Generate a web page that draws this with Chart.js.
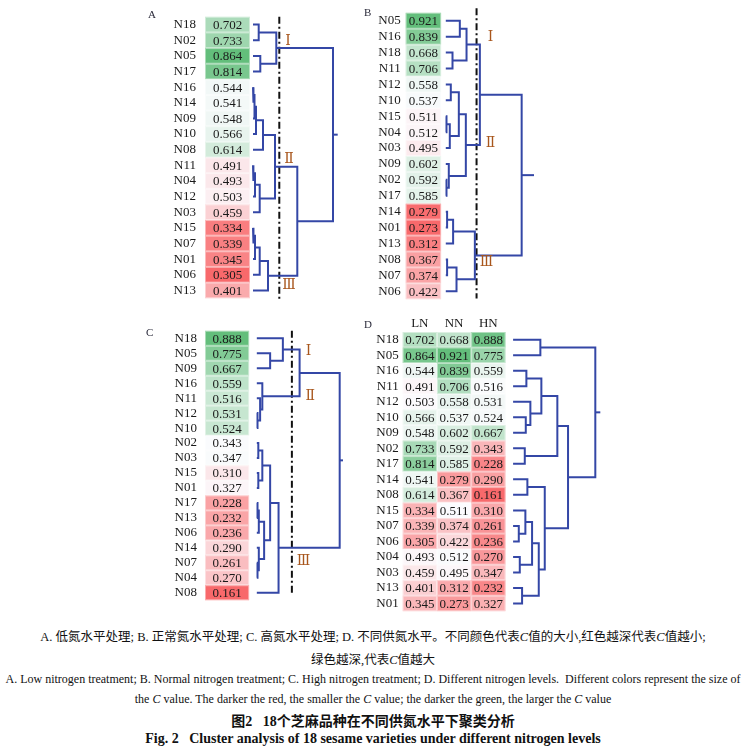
<!DOCTYPE html>
<html>
<head>
<meta charset="utf-8">
<script src="https://cdn.jsdelivr.net/npm/chart.js@4.4.1/dist/chart.umd.min.js"></script>
<style>
  body { margin: 0; background: #fff; width: 746px; height: 750px; position: relative; overflow: hidden; }
  canvas { position: absolute; }
  .letter { position: absolute; font: 11px "Liberation Serif", serif; color: #2a2a3a; }
  .cap { position: absolute; left: 0; width: 746px; text-align: center; color: #111; white-space: nowrap; }
  .zh { font: 12.5px "Liberation Serif", "Noto Sans CJK SC", serif; }
  .en { font: 12px "Liberation Serif", serif; }
  .bold { font-weight: bold; font-size: 14px; }
</style>
</head>
<body>
<canvas id="chartA"></canvas>
<canvas id="chartB"></canvas>
<canvas id="chartC"></canvas>
<canvas id="chartD"></canvas>

<div class="letter" style="left:148px;top:8px">A</div>
<div class="letter" style="left:364px;top:6px">B</div>
<div class="letter" style="left:146px;top:326px">C</div>
<div class="letter" style="left:364px;top:318px">D</div>

<div class="cap zh" style="top:626px">A. 低氮水平处理; B. 正常氮水平处理; C. 高氮水平处理; D. 不同供氮水平。不同颜色代表<i>C</i>值的大小,红色越深代表<i>C</i>值越小;</div>
<div class="cap zh" style="top:649px">绿色越深,代表<i>C</i>值越大</div>
<div class="cap en" style="top:672px">A. Low nitrogen treatment; B. Normal nitrogen treatment; C. High nitrogen treatment; D. Different nitrogen levels.&nbsp; Different colors represent the size of</div>
<div class="cap en" style="top:692px">the <i>C</i> value. The darker the red, the smaller the <i>C</i> value; the darker the green, the larger the <i>C</i> value</div>
<div class="cap zh bold" style="top:710px">图2&nbsp;&nbsp;&nbsp;18个芝麻品种在不同供氮水平下聚类分析</div>
<div class="cap en bold" style="top:731px">Fig. 2&nbsp;&nbsp;&nbsp;Cluster analysis of 18 sesame varieties under different nitrogen levels</div>

<script>
// ---- data ----
const namesA = ['N18','N02','N05','N17','N16','N14','N09','N10','N08','N11','N04','N12','N03','N15','N07','N01','N06','N13'];
const valuesA = [0.702,0.733,0.864,0.814,0.544,0.541,0.548,0.566,0.614,0.491,0.493,0.503,0.459,0.334,0.339,0.345,0.305,0.401];

const namesB = ['N05','N16','N18','N11','N12','N10','N15','N04','N03','N09','N02','N17','N14','N01','N13','N08','N07','N06'];
const valuesB = [0.921,0.839,0.668,0.706,0.558,0.537,0.511,0.512,0.495,0.602,0.592,0.585,0.279,0.273,0.312,0.367,0.374,0.422];

const namesC = ['N18','N05','N09','N16','N11','N12','N10','N02','N03','N15','N01','N17','N13','N06','N14','N07','N04','N08'];
const valuesC = [0.888,0.775,0.667,0.559,0.516,0.531,0.524,0.343,0.347,0.310,0.327,0.228,0.232,0.236,0.290,0.261,0.270,0.161];

const namesD = ['N18','N05','N16','N11','N12','N10','N09','N02','N17','N14','N08','N15','N07','N06','N04','N03','N13','N01'];
const headersD = ['LN','NN','HN'];
const lnD = [0.702,0.864,0.544,0.491,0.503,0.566,0.548,0.733,0.814,0.541,0.614,0.334,0.339,0.305,0.493,0.459,0.401,0.345];
const nnD = [0.668,0.921,0.839,0.706,0.558,0.537,0.602,0.592,0.585,0.279,0.367,0.511,0.374,0.422,0.512,0.495,0.312,0.273];
const hnD = [0.888,0.775,0.559,0.516,0.531,0.524,0.667,0.343,0.228,0.290,0.161,0.310,0.261,0.236,0.270,0.347,0.232,0.327];

// dendrograms: [left, right, merge distance]
const treeA = [
  [['N18','N02',5.7], ['N05','N17',7.3], 23.3],
  [
    [[[[['N16','N14',0.7],'N09',1.5],'N10',3],'N08',10], [[['N11','N04',0.6],'N12',2],'N03',6.7], 22],
    [[[['N15','N07',0.7],'N01',2],'N06',6.7],'N13',15],
    44.3
  ],
  80
];
const treeB = [
  [
    [['N05','N16',14], ['N18','N11',6.7], 20.7],
    [[['N12','N10',5], [['N15','N04',0.7],'N03',4], 13], ['N09',['N02','N17',0.7],3], 20],
    34
  ],
  [[['N14','N01',1.3],'N13',7.3], [['N08','N07',1.3],'N06',10.7], 29],
  75.7
];
const treeC = [
  [['N18',['N05','N09',13.3],26], ['N16',['N11',['N12','N10',0.7],3.3],5.5], 42.7],
  [[[['N02','N03',1.5],['N15','N01',1.5],5.5], [[['N17','N13',0.7],'N06',2],['N14',['N07','N04',0.7],2],7.3], 13.3], 'N08', 21.7],
  82.7
];
const treeD = [
  ['N18','N05',27.3],
  [
    [[['N16','N11',13.3], ['N12',['N10','N09',12.7],17.3], 28.3], ['N02','N17',11.7], 44.3],
    [['N14','N08',14.3], [[['N15',['N07','N06',5.7],12.3], ['N04','N03',6.7], 19], ['N13','N01',9], 25.7], 31.7],
    55
  ],
  82.3
];
const cutA = 26.3, cutB = 30.7, cutC = 35;

// ---- helpers ----
const LINE = '#3447a6';
const SERIF = '"Liberation Serif", "Times New Roman", serif';

function median(arr) {
  const s = arr.slice().sort((a, b) => a - b);
  const m = Math.floor(s.length / 2);
  return s.length % 2 ? s[m] : (s[m - 1] + s[m]) / 2;
}

function cellColor(v, lo, mid, hi) {
  const red = [248,105,107], white = [252,252,255], green = [99,190,123];
  let a, b, t;
  if (v <= mid) { a = red; b = white; t = (v - lo) / (mid - lo); }
  else { a = white; b = green; t = (v - mid) / (hi - mid); }
  const c = a.map((x, i) => Math.round(x + (b[i] - x) * t));
  return 'rgb(' + c.join(',') + ')';
}

function buildLinks(node, names, out) {
  if (typeof node === 'string') return { x: 0, y: names.indexOf(node) };
  const a = buildLinks(node[0], names, out);
  const b = buildLinks(node[1], names, out);
  const h = node[2];
  out.push([{x: a.x, y: a.y}, {x: h, y: a.y}, {x: h, y: b.y}, {x: b.x, y: b.y}]);
  return { x: h, y: (a.y + b.y) / 2 };
}

function lineSet(data, extra) {
  return Object.assign({
    data: data, showLine: true, borderColor: LINE, borderWidth: 2,
    pointRadius: 0, fill: false, clip: false, borderJoinStyle: 'miter'
  }, extra || {});
}

function makePanel(p) {
  const cols = p.columns;
  const xMin = -(cols.length * p.cellW + p.gap);
  const flat = [].concat.apply([], cols);
  const lo = Math.min.apply(null, flat), hi = Math.max.apply(null, flat), mid = median(flat);

  const links = [];
  const root = buildLinks(p.tree, p.names, links);
  const datasets = links.map(l => lineSet(l));
  datasets.push(lineSet([{x: root.x, y: root.y}, {x: p.stub, y: root.y}]));
  if (p.cut !== undefined) {
    datasets.push(lineSet([{x: p.cut, y: p.cutFrom}, {x: p.cut, y: p.cutTo}],
      {borderColor: '#111', borderWidth: 2, borderDash: [7, 3, 2, 3], borderCapStyle: 'butt'}));
  }

  const cells = {
    id: 'cells' + p.id,
    beforeDatasetsDraw(chart) {
      const ctx = chart.ctx, xs = chart.scales.x, ys = chart.scales.y;
      ctx.save();
      cols.forEach((col, j) => {
        const x0 = xs.getPixelForValue(xMin + j * p.cellW);
        const x1 = xs.getPixelForValue(xMin + (j + 1) * p.cellW);
        col.forEach((v, i) => {
          const y0 = ys.getPixelForValue(i - 0.5), y1 = ys.getPixelForValue(i + 0.5);
          ctx.fillStyle = cellColor(v, lo, mid, hi);
          ctx.fillRect(x0, y0, x1 - x0, y1 - y0);
          ctx.strokeStyle = 'rgba(255,255,255,0.45)';
          ctx.lineWidth = 1;
          ctx.strokeRect(x0 + 0.5, y0 + 0.5, x1 - x0 - 1, y1 - y0 - 1);
          ctx.fillStyle = '#1a1a1a';
          ctx.font = '13px ' + SERIF;
          ctx.textAlign = 'center';
          ctx.textBaseline = 'middle';
          ctx.fillText(v.toFixed(3), (x0 + x1) / 2, (y0 + y1) / 2 + 1);
        });
        if (p.headers) {
          ctx.fillStyle = '#1a1a1a';
          ctx.font = '13px ' + SERIF;
          ctx.textAlign = 'center';
          ctx.textBaseline = 'middle';
          ctx.fillText(p.headers[j], (x0 + x1) / 2, chart.chartArea.top - 8);
        }
      });
      ctx.restore();
    },
    afterDraw(chart) {
      if (!p.groups) return;
      const ctx = chart.ctx, xs = chart.scales.x, ys = chart.scales.y;
      ctx.save();
      ctx.font = '14px "DejaVu Serif", serif';
      ctx.fillStyle = '#a8561c';
      ctx.textAlign = 'center';
      ctx.textBaseline = 'middle';
      p.groups.forEach(g => ctx.fillText(g.text, xs.getPixelForValue(g.x), ys.getPixelForValue(g.row)));
      ctx.restore();
    }
  };

  const canvas = document.getElementById('chart' + p.id);
  const width = Math.round(p.axisW + (p.xMax - xMin) + 2);
  canvas.width = width;
  canvas.height = Math.round(p.padTop + p.plotH + p.padBottom);
  canvas.style.left = p.left + 'px';
  canvas.style.top = p.top + 'px';

  new Chart(canvas.getContext('2d'), {
    type: 'scatter',
    data: { datasets: datasets },
    options: {
      responsive: false,
      animation: false,
      layout: { padding: { top: p.padTop, bottom: p.padBottom, left: 0, right: 2 } },
      plugins: { legend: { display: false }, tooltip: { enabled: false } },
      scales: {
        x: { type: 'linear', display: false, min: xMin, max: p.xMax },
        y: {
          type: 'linear', reverse: true, min: -0.5, max: p.names.length - 0.5,
          grid: { display: false, drawTicks: false }, border: { display: false },
          afterBuildTicks: axis => { axis.ticks = p.names.map((n, i) => ({ value: i })); },
          afterFit: axis => { axis.width = p.axisW; },
          ticks: {
            autoSkip: false, padding: p.namePad, color: '#1a1a1a',
            font: { family: SERIF, size: 13 },
            callback: v => p.names[v]
          }
        }
      }
    },
    plugins: [cells]
  });
}

makePanel({
  id: 'A', left: 140, top: 0, axisW: 65, namePad: 9, padTop: 12.7, plotH: 296.3, padBottom: 6,
  cellW: 45, gap: 3, xMax: 90, names: namesA, columns: [valuesA], tree: treeA, stub: 84.7,
  cut: cutA, cutFrom: -0.5, cutTo: 17.55,
  groups: [{text: 'Ⅰ', x: 35, row: 1.05}, {text: 'Ⅱ', x: 36, row: 8.6}, {text: 'Ⅲ', x: 36, row: 16.7}]
});
makePanel({
  id: 'B', left: 360, top: 0, axisW: 45.7, namePad: 5, padTop: 12.7, plotH: 293.3, padBottom: 6,
  cellW: 35.3, gap: 4.7, xMax: 92, names: namesB, columns: [valuesB], tree: treeB, stub: 88,
  cut: cutB, cutFrom: -0.78, cutTo: 17.45,
  groups: [{text: 'Ⅰ', x: 44.7, row: 1.07}, {text: 'Ⅱ', x: 44.7, row: 7.7}, {text: 'Ⅲ', x: 40.7, row: 15.2}]
});
makePanel({
  id: 'C', left: 140, top: 315, axisW: 65, namePad: 8, padTop: 11.7, plotH: 283.3, padBottom: 6,
  cellW: 44, gap: 7.7, xMax: 90, names: namesC, columns: [valuesC], tree: treeC, stub: 86,
  cut: cutC, cutFrom: -0.5, cutTo: 17.2,
  groups: [{text: 'Ⅰ', x: 51.6, row: 0.87}, {text: 'Ⅱ', x: 53.3, row: 3.9}, {text: 'Ⅲ', x: 46.6, row: 14.9}]
});
makePanel({
  id: 'D', left: 360, top: 315, axisW: 42.7, namePad: 4, padTop: 17, plotH: 286.7, padBottom: 4,
  cellW: 34.3, gap: 7.6, xMax: 92, names: namesD, columns: [lnD, nnD, hnD], headers: headersD,
  tree: treeD, stub: 87.3
});
</script>
</body>
</html>
